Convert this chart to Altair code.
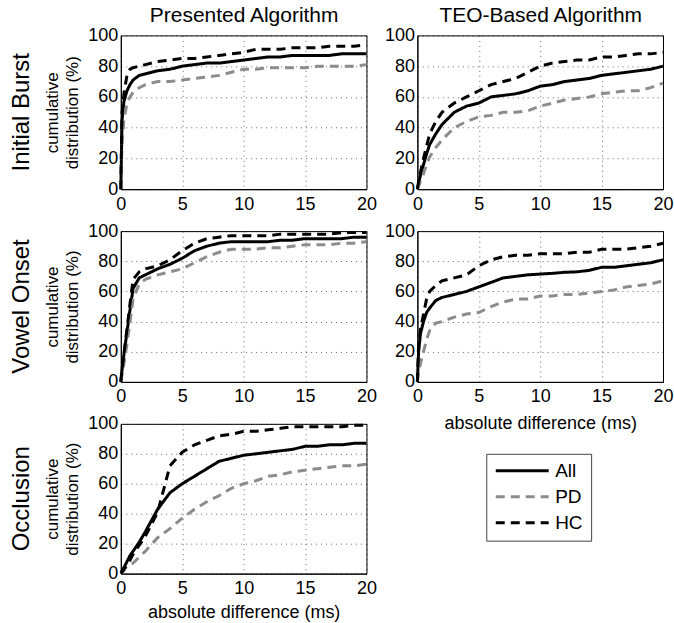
import altair as alt
import pandas as pd

# shared x grid (ms) at which the curves were read
X = [0, 0.1, 0.25, 0.5, 0.75, 1, 1.5, 2, 3, 4, 5, 6, 7, 8, 9, 10, 11, 12, 13, 14, 15, 16, 17, 18, 19, 20]

# Initial Burst - Presented Algorithm
IB_PRES_ALL = [0, 45, 57, 64, 68, 71, 74, 75, 77, 78, 80, 81, 82, 82, 83, 84, 85, 86, 86, 87, 87, 87, 87, 88, 88, 88]
IB_PRES_PD = [0, 30, 45, 56, 60, 63, 66, 68, 70, 70, 71, 72, 73, 74, 76, 78, 78, 79, 79, 79, 79, 80, 80, 80, 80, 81]
IB_PRES_HC = [0, 50, 62, 74, 78, 79, 80, 81, 83, 84, 85, 85, 86, 87, 88, 89, 91, 91, 91, 92, 92, 92, 93, 93, 93, 94]
# Initial Burst - TEO-Based Algorithm
IB_TEO_ALL = [0, 4, 9, 16, 23, 29, 36, 42, 50, 54, 56, 60, 61, 62, 64, 67, 68, 70, 71, 72, 74, 75, 76, 77, 78, 80]
IB_TEO_PD = [0, 2, 5, 10, 16, 21, 27, 32, 40, 44, 47, 48, 50, 50, 51, 54, 56, 58, 59, 60, 62, 63, 64, 64, 66, 69]
IB_TEO_HC = [0, 5, 11, 20, 28, 36, 44, 50, 56, 60, 64, 68, 70, 72, 76, 80, 82, 83, 84, 84, 86, 86, 87, 88, 88, 89]
# Vowel Onset - Presented Algorithm
VO_PRES_ALL = [0, 8, 18, 33, 48, 62, 69, 71, 75, 78, 82, 87, 90, 92, 93, 93, 93, 93, 94, 94, 95, 95, 95, 95, 96, 96]
VO_PRES_PD = [0, 5, 12, 25, 40, 55, 65, 68, 71, 73, 75, 79, 83, 86, 88, 88, 88, 89, 89, 90, 91, 91, 91, 92, 92, 93]
VO_PRES_HC = [0, 8, 18, 35, 52, 68, 73, 75, 77, 81, 87, 92, 95, 96, 97, 97, 97, 97, 98, 98, 98, 98, 98, 99, 99, 99]
# Vowel Onset - TEO-Based Algorithm
VO_TEO_ALL = [0, 20, 32, 40, 46, 49, 54, 56, 58, 60, 63, 66, 69, 70, 71, 71.5, 72, 72.7, 73, 74, 76, 76, 77, 78, 79, 81]
VO_TEO_PD = [0, 6, 12, 20, 28, 34, 39, 40, 43, 45, 46, 50, 53, 55, 55, 57, 57, 58, 58, 59, 60, 61, 63, 64, 65, 67]
VO_TEO_HC = [0, 25, 35, 45, 55, 60, 64, 67, 69, 71, 77, 81, 83, 84, 84, 85, 85, 85, 86, 86, 88, 88, 88, 89, 90, 92]
# Occlusion - Presented Algorithm
OC_PRES_ALL = [1, 2, 4, 8, 12, 15, 21, 28, 43, 54, 60, 65, 70, 75, 77, 79, 80, 81, 82, 83, 85, 85, 86, 86, 87, 87]
OC_PRES_PD = [0, 1, 2, 5, 6, 7, 11, 15, 24, 30, 37, 43, 48, 52, 57, 60, 62, 65, 66, 68, 69, 70, 71, 72, 72, 73]
OC_PRES_HC = [0, 1, 3, 6, 9, 13, 19, 25, 41, 72, 81, 86, 89, 92, 93, 95, 95, 96, 97, 98, 98, 98, 98, 98, 99, 99]

SERIES = ["All", "PD", "HC"]
COLORS = ["#000000", "#8c8c8c", "#000000"]
DASHES = [[1, 0], [9, 6], [9, 6]]
ROW_LABELS = ["Initial Burst", "Vowel Onset", "Occlusion"]
COL_LABELS = ["Presented Algorithm", "TEO-Based Algorithm"]
X_TICKS = [0, 5, 10, 15, 20]
Y_TICKS = [0, 20, 40, 60, 80, 100]
X_TITLE = "absolute difference (ms)"
Y_TITLE = ["cumulative", "distribution (%)"]

FONT = "Liberation Sans"

legend = alt.Legend(
    title=None, orient="none", legendX=366, legendY=419,
    symbolType="stroke", symbolSize=2809, symbolStrokeWidth=3,
    labelFontSize=19, labelFont=FONT, labelColor="black", labelOffset=5,
    strokeColor="#444", fillColor="white", padding=8, rowPadding=7,
    clipHeight=18,
)


def make_df(all_v, pd_v, hc_v):
    rows = []
    for name, vals in zip(SERIES, [all_v, pd_v, hc_v]):
        for xv, yv in zip(X, vals):
            rows.append({"x": xv, "y": yv, "series": name})
    return pd.DataFrame(rows)


def panel(all_v, pd_v, hc_v, height, row_label=None, col_label=None,
          xtitle=None, left=True, xtitle_pad=6):
    df = make_df(all_v, pd_v, hc_v)
    xscale = alt.Scale(domain=[0, 20], nice=False)
    lines = alt.Chart(df).mark_line(strokeWidth=3).encode(
        x=alt.X("x:Q", scale=xscale,
                axis=alt.Axis(values=X_TICKS, title=xtitle, ticks=False,
                              labelFontSize=18, labelColor="black", labelPadding=6,
                              titleFontSize=18, titleFontWeight="normal",
                              titleColor="black", titlePadding=xtitle_pad,
                              grid=True, gridDash=[1, 4], gridColor="#000",
                              gridOpacity=0.6, domainColor="black",
                              labelFlush=False)),
        y=alt.Y("y:Q", scale=alt.Scale(domain=[0, 100], nice=False),
                axis=alt.Axis(values=Y_TICKS, title=(Y_TITLE if left else None),
                              ticks=False, labelFontSize=18, labelColor="black",
                              labelPadding=3, titleFontSize=17,
                              titleFontWeight="normal", titleColor="black",
                              titlePadding=6, titleLineHeight=20,
                              grid=True, gridDash=[1, 4], gridColor="#000",
                              gridOpacity=0.6, domainColor="black",
                              labelFlush=False)),
        color=alt.Color("series:N", scale=alt.Scale(domain=SERIES, range=COLORS),
                        legend=legend),
        strokeDash=alt.StrokeDash("series:N",
                                  scale=alt.Scale(domain=SERIES, range=DASHES),
                                  legend=legend),
    )
    layers = [lines]
    if col_label:
        ghost = alt.Chart(df).mark_rule(opacity=0).encode(
            x=alt.X("x:Q", scale=xscale,
                    axis=alt.Axis(orient="top", title=col_label, labels=False,
                                  ticks=False, domain=False, grid=False,
                                  titleFontSize=21, titleFontWeight="normal",
                                  titleColor="black", titlePadding=10)),
        )
        layers.append(ghost)
    ch = alt.layer(*layers)
    if col_label:
        ch = ch.resolve_axis(x="independent")
    props = dict(width=246, height=height)
    if row_label:
        props["title"] = alt.TitleParams(text=row_label, orient="left",
                                         fontSize=24, fontWeight="normal",
                                         color="black", offset=10,
                                         anchor="middle", font=FONT)
    return ch.properties(**props)


p11 = panel(IB_PRES_ALL, IB_PRES_PD, IB_PRES_HC, 154, row_label=ROW_LABELS[0],
            col_label=COL_LABELS[0])
p12 = panel(IB_TEO_ALL, IB_TEO_PD, IB_TEO_HC, 154, col_label=COL_LABELS[1],
            left=False)
p21 = panel(VO_PRES_ALL, VO_PRES_PD, VO_PRES_HC, 151, row_label=ROW_LABELS[1])
p22 = panel(VO_TEO_ALL, VO_TEO_PD, VO_TEO_HC, 151, xtitle=X_TITLE, left=False,
            xtitle_pad=9)
p31 = panel(OC_PRES_ALL, OC_PRES_PD, OC_PRES_HC, 150, row_label=ROW_LABELS[2],
            xtitle=X_TITLE, xtitle_pad=6)

chart = alt.concat(
    p11, p12, p21, p22, p31, columns=2,
    spacing={"row": 42, "column": 51}, bounds="flush",
).properties(
    padding={"left": 9, "top": 3, "right": 0, "bottom": 0},
    background="white",
).configure(font=FONT).configure_view(stroke="black", strokeWidth=1)

chart.save("out.html", embed_options={"renderer": "svg", "actions": False})
